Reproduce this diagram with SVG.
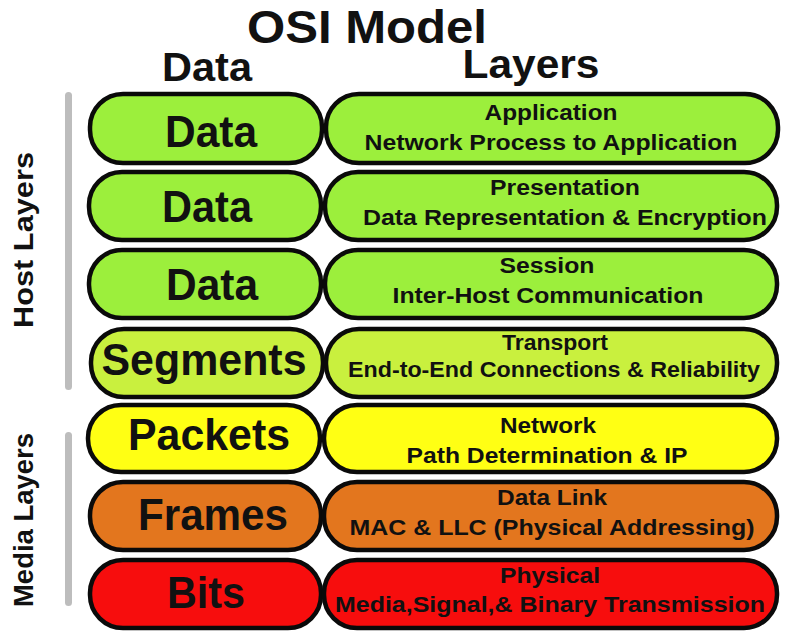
<svg xmlns="http://www.w3.org/2000/svg" width="800" height="639" viewBox="0 0 800 639">
<style>
  text { font-family: "Liberation Sans", Arial, sans-serif; font-weight: bold; fill: #111; }
  .pill { stroke: #0a0a0a; stroke-width: 4.5; }
  .g1 { fill: #9cef3c; }
  .g2 { fill: #c9f03e; }
  .y { fill: #ffff14; }
  .o { fill: #e3761e; }
  .r { fill: #f70d0d; }
  .big { font-size: 44px; text-anchor: middle; }
  .sm { font-size: 22px; text-anchor: middle; }
  .hdr { font-size: 40px; text-anchor: middle; }
  .side { font-size: 28px; text-anchor: middle; }
  .bar { fill: #bdbdbd; }
</style>
<rect width="800" height="639" fill="#ffffff"/>
<text x="367" y="43" font-size="46" text-anchor="middle" textLength="240" lengthAdjust="spacingAndGlyphs">OSI Model</text>
<text class="hdr" x="207" y="81" textLength="90" lengthAdjust="spacingAndGlyphs">Data</text>
<text class="hdr" x="531" y="78" textLength="137" lengthAdjust="spacingAndGlyphs">Layers</text>

<g id="side-labels">
  <rect class="bar" x="65" y="92" width="7" height="298" rx="3.5"/>
  <rect class="bar" x="65" y="432" width="7" height="174" rx="3.5"/>
  <text class="side" x="33" y="240" transform="rotate(-90 33 240)" textLength="176" lengthAdjust="spacingAndGlyphs">Host Layers</text>
  <text class="side" x="33" y="520" transform="rotate(-90 33 520)" textLength="174" lengthAdjust="spacingAndGlyphs">Media Layers</text>
</g>

<g id="application">
  <rect class="pill g1" x="90" y="94" width="232" height="69" rx="33"/>
  <text class="big" x="211" y="147" textLength="92" lengthAdjust="spacingAndGlyphs">Data</text>
  <rect class="pill g1" x="326" y="94" width="452" height="69" rx="33"/>
  <text class="sm" x="551" y="120" textLength="133" lengthAdjust="spacingAndGlyphs">Application</text>
  <text class="sm" x="551" y="150" textLength="373" lengthAdjust="spacingAndGlyphs">Network Process to Application</text>
</g>

<g id="presentation">
  <rect class="pill g1" x="89" y="172" width="232" height="68" rx="33"/>
  <text class="big" x="207" y="222" textLength="90" lengthAdjust="spacingAndGlyphs">Data</text>
  <rect class="pill g1" x="325" y="172" width="452" height="68" rx="33"/>
  <text class="sm" x="565" y="195" textLength="150" lengthAdjust="spacingAndGlyphs">Presentation</text>
  <text class="sm" x="565" y="225" textLength="404" lengthAdjust="spacingAndGlyphs">Data Representation &amp; Encryption</text>
</g>

<g id="session">
  <rect class="pill g1" x="89" y="250" width="232" height="68" rx="33"/>
  <text class="big" x="212" y="300" textLength="92" lengthAdjust="spacingAndGlyphs">Data</text>
  <rect class="pill g1" x="325" y="250" width="452" height="68" rx="33"/>
  <text class="sm" x="547" y="273" textLength="95" lengthAdjust="spacingAndGlyphs">Session</text>
  <text class="sm" x="548" y="303" textLength="311" lengthAdjust="spacingAndGlyphs">Inter-Host Communication</text>
</g>

<g id="transport">
  <rect class="pill g2" x="91" y="329" width="232" height="68" rx="33"/>
  <text class="big" x="204" y="375" textLength="205" lengthAdjust="spacingAndGlyphs">Segments</text>
  <rect class="pill g2" x="326" y="329" width="451" height="68" rx="33"/>
  <text class="sm" x="555" y="350" textLength="106" lengthAdjust="spacingAndGlyphs">Transport</text>
  <text class="sm" x="554" y="377" textLength="412" lengthAdjust="spacingAndGlyphs">End-to-End Connections &amp; Reliability</text>
</g>

<g id="network">
  <rect class="pill y" x="88" y="405" width="232" height="67" rx="33"/>
  <text class="big" x="209" y="450" textLength="162" lengthAdjust="spacingAndGlyphs">Packets</text>
  <rect class="pill y" x="324" y="405" width="453" height="67" rx="33"/>
  <text class="sm" x="548" y="433" textLength="96" lengthAdjust="spacingAndGlyphs">Network</text>
  <text class="sm" x="547" y="463" textLength="281" lengthAdjust="spacingAndGlyphs">Path Determination &amp; IP</text>
</g>

<g id="data-link">
  <rect class="pill o" x="90" y="482" width="231" height="68" rx="33"/>
  <text class="big" x="213" y="530" textLength="150" lengthAdjust="spacingAndGlyphs">Frames</text>
  <rect class="pill o" x="324" y="482" width="453" height="68" rx="33"/>
  <text class="sm" x="552" y="505" textLength="110" lengthAdjust="spacingAndGlyphs">Data Link</text>
  <text class="sm" x="552" y="535" textLength="405" lengthAdjust="spacingAndGlyphs">MAC &amp; LLC (Physical Addressing)</text>
</g>

<g id="physical">
  <rect class="pill r" x="90" y="560" width="231" height="68" rx="33"/>
  <text class="big" x="206" y="608" textLength="78" lengthAdjust="spacingAndGlyphs">Bits</text>
  <rect class="pill r" x="324" y="560" width="453" height="68" rx="33"/>
  <text class="sm" x="550" y="583" textLength="100" lengthAdjust="spacingAndGlyphs">Physical</text>
  <text class="sm" x="550" y="612" textLength="430" lengthAdjust="spacingAndGlyphs">Media,Signal,&amp; Binary Transmission</text>
</g>

<g id="connectors"></g>
</svg>
